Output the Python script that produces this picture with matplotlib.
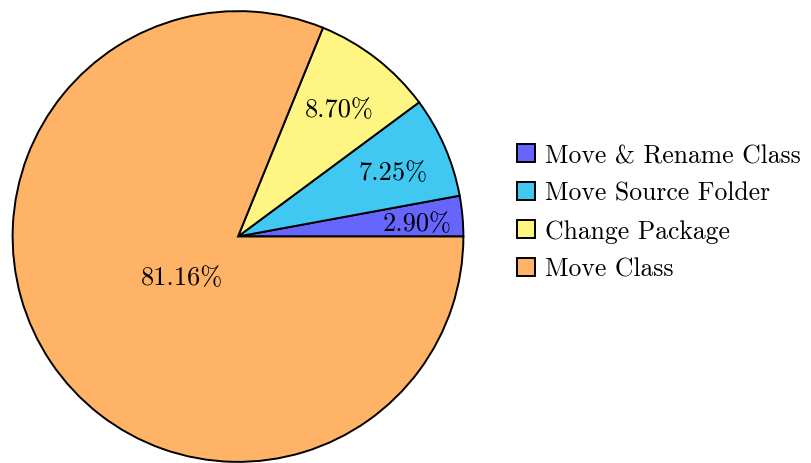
import numpy as np
import matplotlib
matplotlib.use("Agg")
import matplotlib.pyplot as plt

plt.rcParams['font.family'] = ['cmr10', 'DejaVu Serif']
plt.rcParams['axes.unicode_minus'] = False

# slice data (counter-clockwise from east)
labels = ['Move & Rename Class', 'Move Source Folder', 'Change Package', 'Move Class']
shares = [2.90, 7.25, 8.70, 81.16]
colors = ['#6666ff', '#40c8f2', '#fff582', '#ffb366']
label_dist = [0.80, 0.75, 0.73, 0.30]

fig = plt.figure(figsize=(8.12, 4.64), dpi=100)
cx, cy, r = 238, 226.5, 226.5
ax = fig.add_axes([(cx - r) / 812, (cy - r) / 464, 2 * r / 812, 2 * r / 464])

wedges, _ = ax.pie(shares, colors=colors, startangle=0, counterclock=True,
                   radius=1.0, wedgeprops=dict(edgecolor='black', linewidth=1.4))
ax.set_xlim(-1.005, 1.005)
ax.set_ylim(-1.005, 1.005)
ax.set_aspect('equal')
ax.axis('off')

# percentage labels (baseline sits a little low, like the tikz output)
start = 0.0
for val, d in zip(shares, label_dist):
    mid = np.deg2rad((start + val / 2) / 100 * 360)
    ax.text(d * np.cos(mid), d * np.sin(mid) - 0.012, '%.2f%%' % val,
            ha='center', va='center', fontsize=19)
    start += val

leg = fig.legend(wedges, labels, loc='center left',
                 bbox_to_anchor=(0.621, 0.541), frameon=False, fontsize=18.5,
                 handlelength=0.7, handleheight=0.7, handletextpad=0.4,
                 labelspacing=0.55, borderpad=0)

fig.savefig('out.png', dpi=100)
